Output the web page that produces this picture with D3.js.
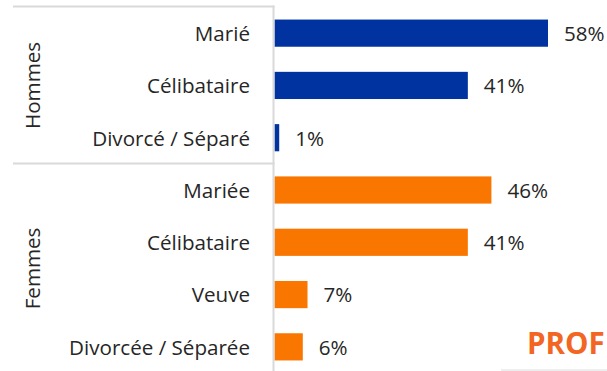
<!DOCTYPE html>
<html>
<head>
<meta charset="utf-8">
<script src="https://cdn.jsdelivr.net/npm/d3@7"></script>
<style>
  html, body { margin: 0; padding: 0; background: #fff; }
  svg { display: block; }
  text { font-family: "Open Sans", "Noto Sans", sans-serif; fill: #262626; }
</style>
</head>
<body>
<svg id="chart" width="607" height="371"></svg>
<script>
// Marital status by sex (%)
const groups = ["Hommes", "Femmes"];
const groupOf = ["Hommes", "Hommes", "Hommes", "Femmes", "Femmes", "Femmes", "Femmes"];
const categories = ["Marié", "Célibataire", "Divorcé / Séparé", "Mariée", "Célibataire", "Veuve", "Divorcée / Séparée"];
const values = [58, 41, 1, 46, 41, 7, 6];
const groupColors = { Hommes: "#0033a0", Femmes: "#f97600" };

const rows = categories.map((c, i) => ({ key: i, label: c, group: groupOf[i], value: values[i] }));

const svg = d3.select("#chart");
const W = 607, H = 371;
const axisX = 274.5;
const gridColor = "#d9d9d9";
const fontSize = 20.6;

const x = d3.scaleLinear().domain([0, 58]).range([axisX, 548]);
const y = d3.scaleBand()
  .domain(rows.map(d => d.key))
  .range([7, 373])
  .paddingInner(0.48)
  .paddingOuter(0.24);

// bars
svg.append("g").selectAll("rect")
  .data(rows)
  .join("rect")
  .attr("x", x(0))
  .attr("y", d => y(d.key))
  .attr("width", d => x(d.value) - x(0))
  .attr("height", y.bandwidth())
  .attr("fill", d => groupColors[d.group]);

// value labels
svg.append("g").selectAll("text")
  .data(rows)
  .join("text")
  .attr("x", d => x(d.value) + 16)
  .attr("y", d => y(d.key) + y.bandwidth() / 2 + 7.8)
  .attr("font-size", fontSize)
  .text(d => d.value + "%");

// category labels
svg.append("g").selectAll("text")
  .data(rows)
  .join("text")
  .attr("x", 250)
  .attr("y", d => y(d.key) + y.bandwidth() / 2 + 7.8)
  .attr("text-anchor", "end")
  .attr("font-size", fontSize)
  .text(d => d.label);

// group separators and axis line
const groupBounds = groups.map(g => {
  const keys = rows.filter(r => r.group === g).map(r => r.key);
  const top = y(keys[0]) - y.step() * y.paddingInner() / 2;
  return { g, top, mid: (y(keys[0]) + y(keys[keys.length - 1]) + y.bandwidth()) / 2 };
});

svg.append("g").selectAll("line")
  .data(groupBounds)
  .join("line")
  .attr("x1", 13).attr("x2", axisX)
  .attr("y1", d => Math.round(d.top) - 0.5)
  .attr("y2", d => Math.round(d.top) - 0.5)
  .attr("stroke", gridColor)
  .attr("stroke-width", 2);

svg.append("line")
  .attr("x1", axisX - 1).attr("x2", axisX - 1)
  .attr("y1", groupBounds[0].top - 1.5).attr("y2", H)
  .attr("stroke", gridColor)
  .attr("stroke-width", 2);

// group labels (rotated)
svg.append("g").selectAll("text")
  .data(groupBounds)
  .join("text")
  .attr("transform", d => `translate(40,${d.mid}) rotate(-90)`)
  .attr("text-anchor", "middle")
  .attr("font-size", fontSize)
  .text(d => d.g);

// brand mark
svg.append("text")
  .attr("x", 527)
  .attr("y", 353.5)
  .attr("font-size", 29.5)
  .attr("font-weight", 700)
  .style("fill", "#f26522")
  .text("PROF");

svg.append("line")
  .attr("x1", 501).attr("x2", W)
  .attr("y1", 370).attr("y2", 370)
  .attr("stroke", "#eeeeee")
  .attr("stroke-width", 2);
</script>
</body>
</html>
